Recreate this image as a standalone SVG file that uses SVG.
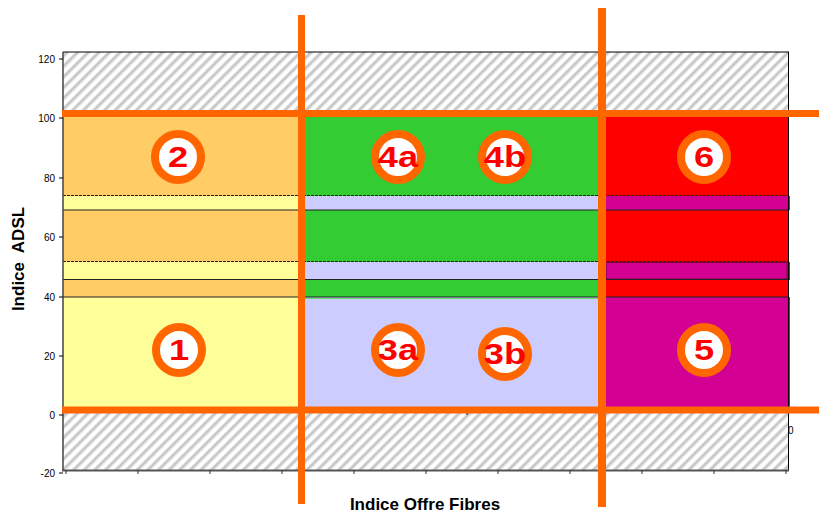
<svg xmlns="http://www.w3.org/2000/svg" width="819" height="515" viewBox="0 0 819 515">
<style>
.ax{font-family:"Liberation Sans",Arial,sans-serif;font-size:10px;fill:#000}
.ttl{font-family:"Liberation Sans",Arial,sans-serif;font-size:17px;font-weight:bold;fill:#000}
.ring{fill:#fff;stroke:#FF6600;stroke-width:8}
.num{font-family:"Liberation Sans",Arial,sans-serif;font-size:29px;font-weight:bold;fill:#FF0000;text-anchor:middle}
.or{fill:#FF6600}
.sep{stroke:#222;stroke-width:1.2;fill:none}
</style>
<defs>
<pattern id="hatch" patternUnits="userSpaceOnUse" width="7.5" height="7.5" patternTransform="rotate(45)">
<rect width="7.5" height="7.5" fill="#ffffff"/>
<rect x="0" y="0" width="1" height="7.5" fill="#dedede"/>
<rect x="1" y="0" width="2" height="7.5" fill="#c4c4c4"/>
<rect x="3" y="0" width="1" height="7.5" fill="#dedede"/>
</pattern>
</defs>
<rect width="819" height="515" fill="#ffffff"/>
<g id="hatching">
<rect x="63" y="52" width="725" height="64" fill="url(#hatch)"/>
<rect x="63" y="410" width="725" height="60" fill="url(#hatch)"/>
</g>
<g id="zone-left">
<rect x="63" y="113" width="239" height="83" fill="#FFCC66"/>
<rect x="63" y="196" width="239" height="14" fill="#FFFF99"/>
<rect x="63" y="210" width="239" height="52" fill="#FFCC66"/>
<rect x="63" y="262" width="239" height="18" fill="#FFFF99"/>
<rect x="63" y="280" width="239" height="17" fill="#FFCC66"/>
<rect x="63" y="297" width="239" height="113" fill="#FFFF99"/>
</g>
<g id="zone-middle">
<rect x="302" y="113" width="300" height="83" fill="#33CC33"/>
<rect x="302" y="196" width="300" height="14" fill="#CCCCFF"/>
<rect x="302" y="210" width="300" height="52" fill="#33CC33"/>
<rect x="302" y="262" width="300" height="18" fill="#CCCCFF"/>
<rect x="302" y="280" width="300" height="17" fill="#33CC33"/>
<rect x="302" y="297" width="300" height="113" fill="#CCCCFF"/>
</g>
<g id="zone-right">
<rect x="602" y="113" width="186" height="83" fill="#FF0000"/>
<rect x="602" y="196" width="188" height="14" fill="#D40094"/>
<rect x="602" y="210" width="186" height="52" fill="#FF0000"/>
<rect x="602" y="262" width="188" height="18" fill="#D40094"/>
<rect x="606" y="262.5" width="181" height="16.5" fill="none" stroke="#7a0040" stroke-width="1"/>
<rect x="602" y="280" width="186" height="17" fill="#FF0000"/>
<rect x="602" y="297" width="188" height="113" fill="#D40094"/>
</g>
<g id="band-lines">
<line class="sep" x1="63" y1="195.5" x2="788" y2="195.5" stroke-dasharray="3,1"/>
<line class="sep" x1="63" y1="210" x2="788" y2="210" stroke="#444" stroke-width="1.5"/>
<line class="sep" x1="63" y1="261.5" x2="788" y2="261.5" stroke-dasharray="3,1" stroke="#444"/>
<line class="sep" x1="63" y1="279.5" x2="788" y2="279.5" stroke="#000" stroke-width="1.3"/>
<line class="sep" x1="63" y1="297" x2="788" y2="297" stroke="#111" stroke-width="1.3"/>
<line x1="302" y1="298.5" x2="602" y2="298.5" stroke="#66dd66" stroke-width="1"/>
</g>
<g id="axes">
<line x1="63" y1="52" x2="789" y2="52" stroke="#000" stroke-width="1"/>
<line x1="788.5" y1="52" x2="788.5" y2="471" stroke="#000" stroke-width="1"/>
<line x1="63" y1="52" x2="63" y2="471" stroke="#444" stroke-width="1.5"/>
<line x1="62" y1="470.5" x2="789" y2="470.5" stroke="#555" stroke-width="2"/>
<path d="M59 59H63M59 118H63M59 178H63M59 237H63M59 297H63M59 356H63M59 415H63M59 473H63" stroke="#000" stroke-width="1"/>
<path d="M66 470V474M138 470V474M210 470V474M282 470V474M354 470V474M426 470V474M498 470V474M570 470V474M642 470V474M714 470V474M786 470V474" stroke="#333" stroke-width="1"/>
<line x1="467" y1="413" x2="467" y2="415" stroke="#000" stroke-width="1"/>
<g class="ax" text-anchor="end">
<text x="55" y="63">120</text>
<text x="55" y="122">100</text>
<text x="55" y="182">80</text>
<text x="55" y="241">60</text>
<text x="55" y="301">40</text>
<text x="55" y="360">20</text>
<text x="55" y="419">0</text>
<text x="55" y="477">-20</text>
</g>
<text class="ax" x="788" y="434">0</text>
</g>
<g id="orange-lines">
<rect class="or" x="62" y="110" width="757" height="7"/>
<rect class="or" x="62" y="406.5" width="757" height="7"/>
<rect class="or" x="298" y="15" width="7" height="489"/>
<rect class="or" x="598" y="8" width="8" height="499"/>
</g>
<g id="zone-1"><circle class="ring" cx="179" cy="350" r="23"/><text class="num" transform="translate(179,360) scale(1.25,1)">1</text></g>
<g id="zone-2"><circle class="ring" cx="178" cy="157" r="23"/><text class="num" transform="translate(178,167) scale(1.25,1)">2</text></g>
<g id="zone-3a"><circle class="ring" cx="398" cy="350" r="23"/><text class="num" transform="translate(398,360) scale(1.25,1)">3a</text></g>
<g id="zone-3b"><circle class="ring" cx="505" cy="354" r="23"/><text class="num" transform="translate(505,364) scale(1.25,1)">3b</text></g>
<g id="zone-4a"><circle class="ring" cx="398" cy="157" r="23"/><text class="num" transform="translate(398,167) scale(1.25,1)">4a</text></g>
<g id="zone-4b"><circle class="ring" cx="505" cy="157" r="23"/><text class="num" transform="translate(505,167) scale(1.25,1)">4b</text></g>
<g id="zone-5"><circle class="ring" cx="704" cy="350" r="23"/><text class="num" transform="translate(704,360) scale(1.25,1)">5</text></g>
<g id="zone-6"><circle class="ring" cx="704" cy="157" r="23"/><text class="num" transform="translate(704,167) scale(1.25,1)">6</text></g>
<g id="titles">
<text class="ttl" x="425" y="510" text-anchor="middle">Indice Offre Fibres</text>
<text class="ttl" transform="translate(24,259) rotate(-90)" text-anchor="middle" xml:space="preserve">Indice  ADSL</text>
</g>
</svg>
